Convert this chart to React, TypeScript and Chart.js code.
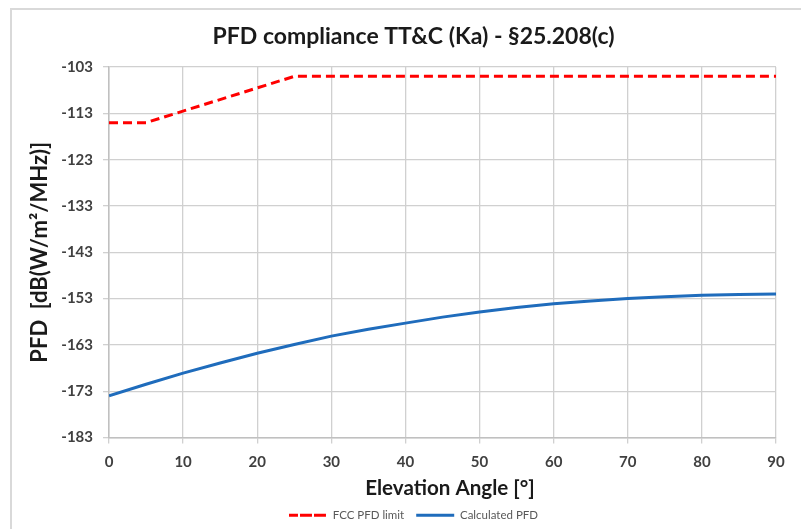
import React, { useEffect, useRef } from "react";
import { Chart, registerables } from "chart.js";

Chart.register(...registerables);

const limitAngles = [0, 5, 25, 90];
const limitValues = [-115, -115, -105, -105];

const pfdAngles = [0, 5, 10, 15, 20, 25, 30, 35, 40, 45, 50, 55, 60, 65, 70, 75, 80, 85, 90];
const pfdValues = [-174.0, -171.5, -169.1, -166.9, -164.8, -162.9, -161.1, -159.6, -158.3, -157.0, -155.9, -154.9, -154.1, -153.5, -153.0, -152.6, -152.3, -152.1, -152.0];

const xTicks = [0, 10, 20, 30, 40, 50, 60, 70, 80, 90];
const yTicks = [-183, -173, -163, -153, -143, -133, -123, -113, -103];

const chartTitle = "PFD compliance TT&C (Ka) - §25.208(c)";
const xTitle = "Elevation Angle [°]";
const yTitle = "PFD  [dB(W/m²/MHz)]";

const FONT = "Lato, 'Open Sans', sans-serif";
const TITLE_COLOR = "#1a1a1a";

const framePlugin = {
  id: "frame",
  beforeDraw(chart: any) {
    const ctx = chart.ctx;
    ctx.save();
    ctx.strokeStyle = "#d9d9d9";
    ctx.lineWidth = 2;
    ctx.beginPath();
    ctx.moveTo(11, chart.height);
    ctx.lineTo(11, 9);
    ctx.lineTo(chart.width, 9);
    ctx.stroke();
    ctx.restore();
  },
};

const axisTitlePlugin = {
  id: "axisTitles",
  afterDraw(chart: any) {
    const ctx = chart.ctx;
    const area = chart.chartArea;
    ctx.save();
    ctx.fillStyle = TITLE_COLOR;
    ctx.textAlign = "center";
    ctx.textBaseline = "middle";
    ctx.font = `bold 20.6px ${FONT}`;
    ctx.fillText(xTitle, (area.left + area.right) / 2 + 7.5, area.bottom + 51);
    ctx.translate(40, (area.top + area.bottom) / 2);
    ctx.rotate(-Math.PI / 2);
    ctx.font = `bold 22px ${FONT}`;
    ctx.fillText(yTitle, 0, 0);
    ctx.restore();
  },
};

export default function App() {
  const ref = useRef<HTMLCanvasElement | null>(null);
  useEffect(() => {
    if (!ref.current) return;
    const chart = new Chart(ref.current, {
      type: "line",
      data: {
        datasets: [
          {
            label: "FCC PFD limit",
            data: limitAngles.map((a, i) => ({ x: a, y: limitValues[i] })),
            borderColor: "#ff0000",
            backgroundColor: "#ff0000",
            borderWidth: 3,
            borderDash: [9, 5],
            pointRadius: 0,
            tension: 0,
          },
          {
            label: "Calculated PFD",
            data: pfdAngles.map((a, i) => ({ x: a, y: pfdValues[i] })),
            borderColor: "#1f6cbc",
            backgroundColor: "#1f6cbc",
            borderWidth: 3,
            pointRadius: 0,
            tension: 0,
          },
        ],
      },
      options: {
        animation: false,
        responsive: false,
        maintainAspectRatio: false,
        layout: { padding: { left: 51, right: 25, top: 9, bottom: -2 } },
        plugins: {
          title: {
            display: true,
            text: chartTitle,
            color: TITLE_COLOR,
            font: { family: FONT, size: 23, weight: "bold" },
            padding: { top: 14, bottom: 16.5 },
          },
          legend: {
            position: "bottom",
            labels: {
              boxWidth: 38,
              boxHeight: 0,
              color: "#595959",
              font: { family: FONT, size: 11.5 },
              padding: 12,
            },
          },
          tooltip: { enabled: false },
        },
        scales: {
          x: {
            type: "linear",
            min: 0,
            max: 90,
            afterBuildTicks: (s: any) => {
              s.ticks = xTicks.map((v) => ({ value: v }));
            },
            afterFit: (s: any) => {
              s.height = 60;
            },
            ticks: {
              color: "#404040",
              font: { family: FONT, size: 15, weight: "bold" },
              padding: 10,
            },
            grid: { color: "#d0d0d0", lineWidth: 1.3, tickLength: 6 },
            border: { color: "#c0c0c0", width: 1.5 },
          },
          y: {
            type: "linear",
            min: -183,
            max: -103,
            afterBuildTicks: (s: any) => {
              s.ticks = yTicks.map((v) => ({ value: v }));
            },
            afterFit: (s: any) => {
              s.width = 58;
            },
            ticks: {
              color: "#404040",
              font: { family: FONT, size: 15, weight: "bold" },
              padding: 10,
            },
            grid: { color: "#d0d0d0", lineWidth: 1.3, tickLength: 6 },
            border: { color: "#c0c0c0", width: 1.5 },
          },
        },
      },
      plugins: [framePlugin, axisTitlePlugin],
    });
    return () => chart.destroy();
  }, []);
  return (
    <div style={{ position: "fixed", left: 0, top: 0, width: 801, height: 529, background: "#fff" }}>
      <canvas ref={ref} width={801} height={529} style={{ display: "block" }} />
    </div>
  );
}
